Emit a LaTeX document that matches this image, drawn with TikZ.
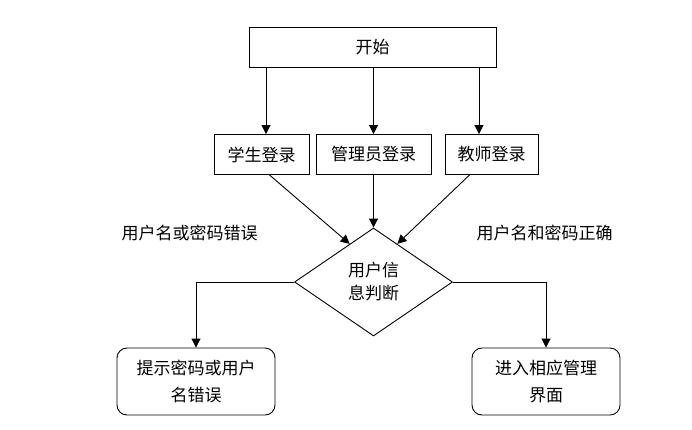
\documentclass[tikz,border=0pt]{standalone}
\usepackage{fontspec}
\setmainfont{Noto Sans CJK SC}
\usetikzlibrary{shapes.geometric,arrows.meta,calc}
\begin{document}
\begin{tikzpicture}[x=1pt,y=-1pt,
  box/.style={draw,line width=0.9pt,minimum height=40pt,inner sep=0pt,font=\fontsize{17}{20}\selectfont},
  rbox/.style={draw,line width=0.9pt,rounded corners=10pt,minimum width=158pt,minimum height=67pt,align=center,font=\fontsize{17}{27}\selectfont,inner sep=0pt},
  dia/.style={draw,line width=0.9pt,diamond,minimum width=158pt,minimum height=108pt,inner sep=0pt,align=center,font=\fontsize{17}{23}\selectfont},
  arr/.style={draw,line width=0.9pt,-{Triangle[length=9pt,width=9pt]}},
  lbl/.style={font=\fontsize{17}{20}\selectfont}]
\useasboundingbox (0,0) rectangle (692,429);
\node[box,minimum width=247pt] (start) at (372.5,47) {开始};
\node[box,minimum width=95pt] (stu) at (261.5,154.5) {学生登录};
\node[box,minimum width=115pt] (adm) at (373.5,154.5) {管理员登录};
\node[box,minimum width=93pt] (tea) at (491.5,154.5) {教师登录};
\node[dia] (chk) at (373.5,282) {用户信\\息判断};
\node[rbox] (err) at (196,381.5) {提示密码或用户\\名错误};
\node[rbox,minimum width=148pt] (ok) at (546,381.5) {进入相应管理\\界面};
\node[lbl] (lerr) at (189.5,233) {用户名或密码错误};
\node[lbl] (lok) at (544.5,233) {用户名和密码正确};
\coordinate (s1) at ($(start.south -| stu)+(4.5,0)$);
\coordinate (s3) at ($(start.south -| tea)+(-12.5,0)$);
\coordinate (a1) at ($(stu.south)+(8,0)$);
\coordinate (a3) at ($(tea.south)+(-22,0)$);
\draw[arr] (s1) -- (s1 |- stu.north);
\draw[arr] (start.south -| adm) -- (adm.north);
\draw[arr] (s3) -- (s3 |- tea.north);
\draw[arr] (a1) -- ($(chk.north)!0.3!(chk.west)$);
\draw[arr] (adm.south) -- (chk.north);
\draw[arr] (a3) -- ($(chk.north)!0.3!(chk.east)$);
\draw[arr] (chk.west) -| (err.north);
\draw[arr] (chk.east) -| (ok.north);
\end{tikzpicture}
\end{document}
